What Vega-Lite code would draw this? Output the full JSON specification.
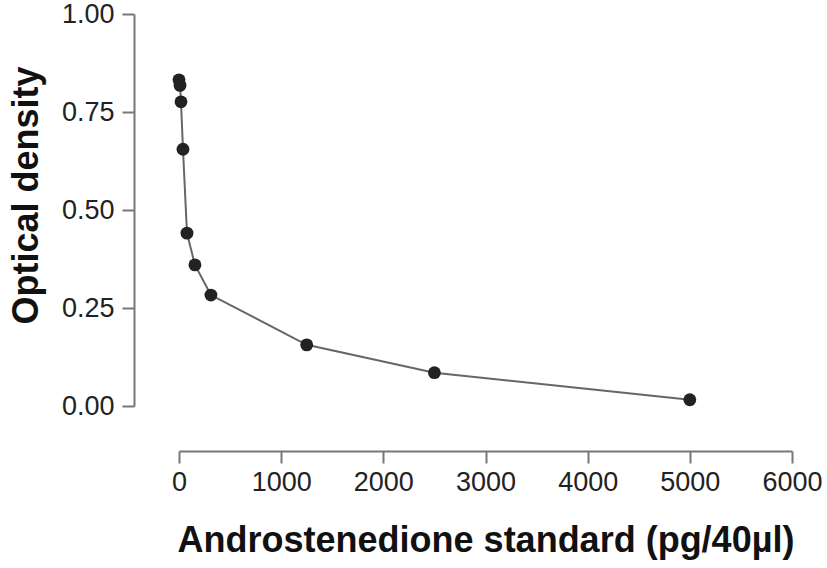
{
  "$schema": "https://vega.github.io/schema/vega-lite/v6.json",
  "width": 613,
  "height": 392,
  "autosize": {"type": "none"},
  "padding": {"left": 179, "top": 14, "right": 35, "bottom": 162},
  "background": "white",
  "config": {
    "view": {"stroke": null},
    "font": "Liberation Sans"
  },
  "data": {
    "values": [
      {"conc": 0, "od": 0.832},
      {"conc": 9.8, "od": 0.818},
      {"conc": 19.5, "od": 0.776},
      {"conc": 39, "od": 0.655},
      {"conc": 78, "od": 0.441},
      {"conc": 156, "od": 0.36},
      {"conc": 312.5, "od": 0.283},
      {"conc": 1250, "od": 0.156},
      {"conc": 2500, "od": 0.085},
      {"conc": 5000, "od": 0.016}
    ]
  },
  "encoding": {
    "x": {
      "field": "conc",
      "type": "quantitative",
      "scale": {"domain": [0, 6000], "nice": false, "zero": false},
      "axis": {
        "title": "Androstenedione standard (pg/40µl)",
        "values": [0, 1000, 2000, 3000, 4000, 5000, 6000],
        "format": "d",
        "offset": 45,
        "grid": false,
        "domainColor": "#777",
        "domainWidth": 2,
        "tickColor": "#777",
        "tickWidth": 2,
        "tickSize": 12,
        "labelFont": "Liberation Sans",
        "labelFontSize": 27,
        "labelColor": "#222",
        "labelPadding": 6,
        "labelFlush": false,
        "titleFont": "Liberation Sans",
        "titleFontSize": 36,
        "titleFontWeight": "bold",
        "titleColor": "#111",
        "titlePadding": 28
      }
    },
    "y": {
      "field": "od",
      "type": "quantitative",
      "scale": {"domain": [0, 1], "nice": false},
      "axis": {
        "title": "Optical density",
        "values": [0, 0.25, 0.5, 0.75, 1],
        "format": ".2f",
        "offset": 45,
        "grid": false,
        "domainColor": "#777",
        "domainWidth": 2,
        "tickColor": "#777",
        "tickWidth": 2,
        "tickSize": 12,
        "labelFont": "Liberation Sans",
        "labelFontSize": 27,
        "labelColor": "#222",
        "labelPadding": 8,
        "labelFlush": false,
        "titleFont": "Liberation Sans",
        "titleFontSize": 36,
        "titleFontWeight": "bold",
        "titleColor": "#111",
        "titlePadding": 16,
        "titleY": 181
      }
    }
  },
  "layer": [
    {
      "mark": {"type": "line", "color": "#666", "strokeWidth": 2}
    },
    {
      "mark": {"type": "point", "filled": true, "color": "#222", "size": 165, "opacity": 1}
    }
  ]
}
